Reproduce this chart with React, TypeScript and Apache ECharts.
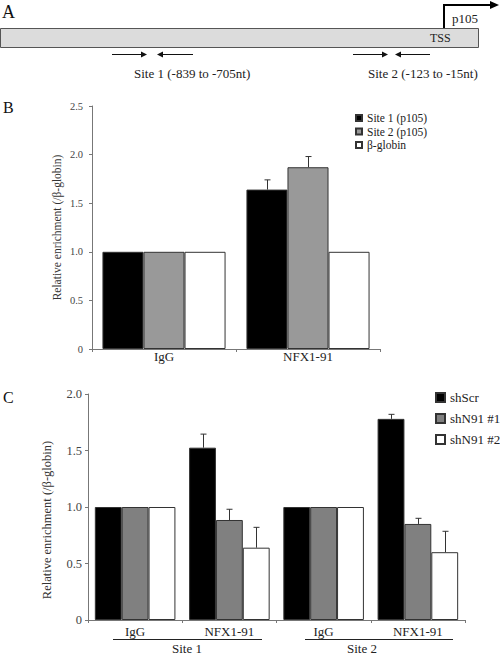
import React, { useEffect, useRef } from "react";
import * as echarts from "echarts";

// ---- Panel B data ----
const categoriesB = ["IgG", "NFX1-91"];
const seriesNamesB = ["Site 1 (p105)", "Site 2 (p105)", "β-globin"];
const site1B = [1.0, 1.64];
const site2B = [1.0, 1.87];
const globinB = [1.0, 1.0];
const site1ErrB = [0, 0.1];
const site2ErrB = [0, 0.11];
const globinErrB = [0, 0];
const yTicksB = { min: 0, max: 2.5, interval: 0.5 };

// ---- Panel C data ----
const categoriesC = ["IgG", "NFX1-91", "IgG", "NFX1-91"];
const siteGroupsC = ["Site 1", "Site 2"];
const seriesNamesC = ["shScr", "shN91 #1", "shN91 #2"];
const shScrC = [1.0, 1.525, 1.0, 1.78];
const shN91n1C = [1.0, 0.885, 1.0, 0.85];
const shN91n2C = [1.0, 0.64, 1.0, 0.6];
const shScrErrC = [0, 0.12, 0, 0.04];
const shN91n1ErrC = [0, 0.095, 0, 0.05];
const shN91n2ErrC = [0, 0.18, 0, 0.185];
const yTicksC = { min: 0, max: 2.0, interval: 0.5 };

// ---- Panel A text ----
const siteLabelsA = ["Site 1 (-839 to -705nt)", "Site 2 (-123 to -15nt)"];
const geneLabelA = "p105";
const tssLabelA = "TSS";
const yAxisName = "Relative enrichment (/β-globin)";

const FONT = "'Liberation Serif', 'Times New Roman', serif";
const GAP = 0.145;

function errorSeries(gridIdx: number, values: number[][], errs: number[][]) {
  const data: number[][] = [];
  values.forEach((vals, si) => {
    vals.forEach((v, ci) => {
      if (errs[si][ci] > 0) data.push([ci, si, v, errs[si][ci]]);
    });
  });
  const n = values.length;
  return {
    type: "custom",
    xAxisIndex: gridIdx,
    yAxisIndex: gridIdx,
    encode: { x: 0, y: 2 },
    silent: true,
    z: 5,
    data,
    renderItem: (params: any, api: any) => {
      const ci = api.value(0);
      const si = api.value(1);
      const v = api.value(2);
      const e = api.value(3);
      const band = api.size([1, 0])[0];
      const bw = (band * (1 - GAP)) / n;
      const base = api.coord([ci, v]);
      const top = api.coord([ci, v + e]);
      const x = Math.round(base[0] + (si - (n - 1) / 2) * bw) + 0.5;
      const st = { stroke: "#333", lineWidth: 1 };
      return {
        type: "group",
        children: [
          { type: "line", shape: { x1: x, y1: base[1], x2: x, y2: top[1] }, style: st },
          { type: "line", shape: { x1: x - 3, y1: top[1], x2: x + 3, y2: top[1] }, style: st },
        ],
      };
    },
  };
}

function barSeries(name: string, data: number[], color: string, idx: number) {
  return {
    name,
    type: "bar",
    xAxisIndex: idx,
    yAxisIndex: idx,
    data,
    barGap: "0%",
    barCategoryGap: "14.5%",
    itemStyle: { color, borderColor: "#333", borderWidth: 1 },
  };
}

export default function App() {
  const ref = useRef<HTMLDivElement>(null);
  useEffect(() => {
    if (!ref.current) return;
    const chart = echarts.init(ref.current, null, { renderer: "svg" });
    const axisLine = { show: true, lineStyle: { color: "#777", width: 1 } };
    const arrowStyle = { stroke: "#111", lineWidth: 1 };
    const txt = (text: string, x: number, y: number, size: number, align = "left") => ({
      type: "text",
      x,
      y,
      style: { text, font: `${size}px ${FONT}`, fill: "#222", textAlign: align, textVerticalAlign: "middle" },
    });
    const option: any = {
      animation: false,
      backgroundColor: "#fff",
      textStyle: { fontFamily: FONT },
      grid: [
        { left: 92, right: 120, top: 106, bottom: 305 },
        { left: 88, right: 35, top: 394, bottom: 34 },
      ],
      legend: [
        {
          data: seriesNamesB,
          orient: "vertical",
          left: 355,
          top: 112,
          itemWidth: 6,
          itemHeight: 6,
          itemGap: 1.5,
          padding: 0,
          icon: "rect",
          selectedMode: false,
          textStyle: { fontSize: 11.5, color: "#222", fontFamily: FONT },
        },
        {
          data: seriesNamesC,
          orient: "vertical",
          left: 435,
          top: 391,
          itemWidth: 9,
          itemHeight: 9,
          itemGap: 8,
          padding: 0,
          icon: "rect",
          selectedMode: false,
          textStyle: { fontSize: 13, color: "#222", fontFamily: FONT },
        },
      ],
      xAxis: [
        {
          type: "category",
          gridIndex: 0,
          data: categoriesB,
          axisLine,
          axisTick: { show: true, length: 3, lineStyle: { color: "#777" } },
          axisLabel: { fontSize: 13, color: "#222", margin: 1, fontFamily: FONT },
        },
        {
          type: "category",
          gridIndex: 1,
          data: categoriesC,
          axisLine,
          axisTick: { show: true, length: 3, lineStyle: { color: "#777" } },
          axisLabel: { fontSize: 13, color: "#222", margin: 5, fontFamily: FONT },
        },
      ],
      yAxis: [
        {
          type: "value",
          gridIndex: 0,
          ...yTicksB,
          splitLine: { show: false },
          axisLine,
          axisTick: { show: true, length: 3, lineStyle: { color: "#777" } },
          axisLabel: {
            fontSize: 10.5,
            color: "#444",
            margin: 9,
            fontFamily: FONT,
            formatter: (v: number) => (v === 0 ? "0" : v.toFixed(1)),
          },
          name: yAxisName,
          nameLocation: "middle",
          nameGap: 29,
          nameMoveOverlap: false,
          nameTextStyle: { fontSize: 11.5, color: "#333", fontFamily: FONT },
        },
        {
          type: "value",
          gridIndex: 1,
          ...yTicksC,
          splitLine: { show: false },
          axisLine,
          axisTick: { show: true, length: 3, lineStyle: { color: "#777" } },
          axisLabel: {
            fontSize: 12.5,
            color: "#444",
            margin: 6,
            fontFamily: FONT,
            formatter: (v: number) => (v === 0 ? "0" : v.toFixed(1)),
          },
          name: yAxisName,
          nameLocation: "middle",
          nameGap: 35,
          nameMoveOverlap: false,
          nameTextStyle: { fontSize: 12.5, color: "#333", fontFamily: FONT, padding: [0, 26, 0, 0] },
        },
      ],
      series: [
        barSeries(seriesNamesB[0], site1B, "#000", 0),
        barSeries(seriesNamesB[1], site2B, "#999", 0),
        barSeries(seriesNamesB[2], globinB, "#fff", 0),
        errorSeries(0, [site1B, site2B, globinB], [site1ErrB, site2ErrB, globinErrB]),
        barSeries(seriesNamesC[0], shScrC, "#000", 1),
        barSeries(seriesNamesC[1], shN91n1C, "#808080", 1),
        barSeries(seriesNamesC[2], shN91n2C, "#fff", 1),
        errorSeries(1, [shScrC, shN91n1C, shN91n2C], [shScrErrC, shN91n1ErrC, shN91n2ErrC]),
      ],
      graphic: [
        // Panel letters
        { type: "text", x: 2, y: 3, style: { text: "A", font: `18px ${FONT}`, fill: "#111" } },
        { type: "text", x: 3, y: 99, style: { text: "B", font: `16px ${FONT}`, fill: "#111" } },
        { type: "text", x: 3, y: 389, style: { text: "C", font: `16px ${FONT}`, fill: "#111" } },
        // Panel A: promoter bar
        {
          type: "rect",
          shape: { x: 0.5, y: 28.5, width: 478, height: 19 },
          style: { fill: "#dcdcdc", stroke: "#555", lineWidth: 1 },
        },
        {
          type: "polyline",
          shape: { points: [[444, 28], [444, 5], [492, 5]] },
          style: { stroke: "#000", lineWidth: 2, fill: null },
        },
        { type: "polygon", shape: { points: [[490, 1], [499, 5], [490, 9]] }, style: { fill: "#000" } },
        txt(geneLabelA, 452, 18, 13),
        txt(tssLabelA, 430, 38, 12),
        // primer arrows
        { type: "line", shape: { x1: 112, y1: 54.5, x2: 143, y2: 54.5 }, style: arrowStyle },
        { type: "polygon", shape: { points: [[141, 51.5], [147, 54.5], [141, 57.5]] }, style: { fill: "#111" } },
        { type: "line", shape: { x1: 161, y1: 54.5, x2: 193, y2: 54.5 }, style: arrowStyle },
        { type: "polygon", shape: { points: [[157, 54.5], [163, 51.5], [163, 57.5]] }, style: { fill: "#111" } },
        { type: "line", shape: { x1: 353, y1: 54.5, x2: 385, y2: 54.5 }, style: arrowStyle },
        { type: "polygon", shape: { points: [[382, 51.5], [388, 54.5], [382, 57.5]] }, style: { fill: "#111" } },
        { type: "line", shape: { x1: 399, y1: 54.5, x2: 430, y2: 54.5 }, style: arrowStyle },
        { type: "polygon", shape: { points: [[395, 54.5], [401, 51.5], [401, 57.5]] }, style: { fill: "#111" } },
        txt(siteLabelsA[0], 134, 73, 13),
        txt(siteLabelsA[1], 368, 73, 13),
        // Panel C: site group underlines and labels
        { type: "line", shape: { x1: 113, y1: 639.5, x2: 262, y2: 639.5 }, style: { stroke: "#222", lineWidth: 1 } },
        { type: "line", shape: { x1: 305, y1: 639.5, x2: 453, y2: 639.5 }, style: { stroke: "#222", lineWidth: 1 } },
        txt(siteGroupsC[0], 187, 648, 13, "center"),
        txt(siteGroupsC[1], 362, 648, 13, "center"),
      ],
    };
    chart.setOption(option);
    return () => chart.dispose();
  }, []);
  return <div ref={ref} style={{ width: 500, height: 654, position: "absolute", left: 0, top: 0 }} />;
}
